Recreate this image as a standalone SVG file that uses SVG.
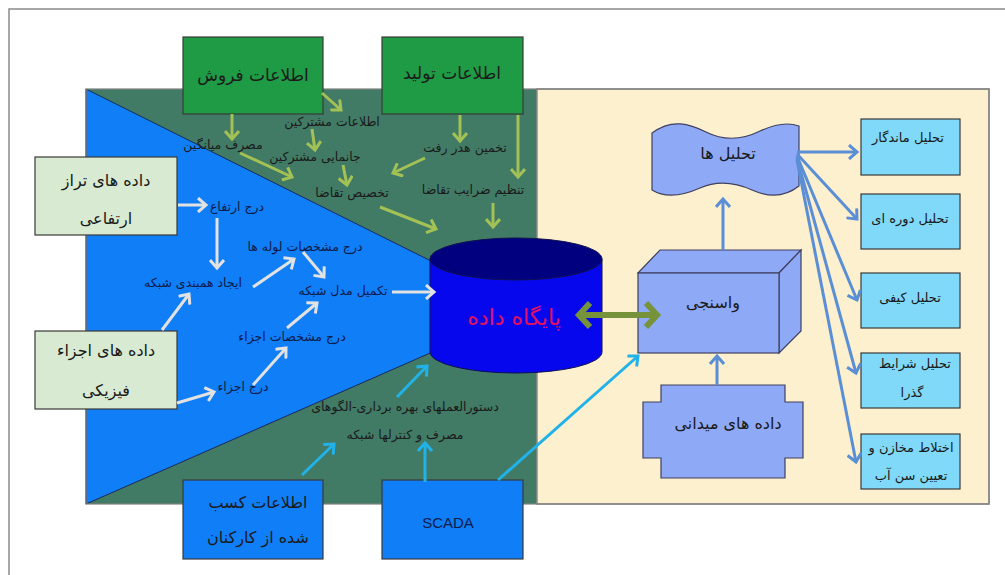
<svg xmlns="http://www.w3.org/2000/svg" width="1005" height="575" viewBox="0 0 1005 575">
<defs>
<style>
text{font-family:"DejaVu Sans","Noto Sans",sans-serif;text-anchor:middle;}
.box{stroke:#3a3a3a;stroke-width:1.2;}
.lbl{font-size:12.5px;fill:#1a1a1a;}
.rl{font-size:13px;fill:#1a1a1a;}
.lblb{font-size:12.5px;fill:#0d1b4a;}
.big{font-size:17px;fill:#1a1a1a;}
.bx{font-size:16px;fill:#1a1a1a;}
.yg{stroke:#a3c155;stroke-width:3;fill:none;marker-end:url(#mYG);}
.wh{stroke:#e2e2e2;stroke-width:3;fill:none;marker-end:url(#mWH);}
.cy{stroke:#20b2e8;stroke-width:3;fill:none;marker-end:url(#mCY);}
.sb{stroke:#5a8fd6;stroke-width:3;fill:none;marker-end:url(#mSB);}
</style>
<marker id="mYG" markerUnits="userSpaceOnUse" markerWidth="16" markerHeight="16" refX="10" refY="8" orient="auto"><path d="M2,1 L10,8 L2,15" fill="none" stroke="#a3c155" stroke-width="3"/></marker>
<marker id="mWH" markerUnits="userSpaceOnUse" markerWidth="16" markerHeight="16" refX="10" refY="8" orient="auto"><path d="M2,1 L10,8 L2,15" fill="none" stroke="#e2e2e2" stroke-width="3"/></marker>
<marker id="mCY" markerUnits="userSpaceOnUse" markerWidth="16" markerHeight="16" refX="10" refY="8" orient="auto"><path d="M2,1 L10,8 L2,15" fill="none" stroke="#20b2e8" stroke-width="3"/></marker>
<marker id="mSB" markerUnits="userSpaceOnUse" markerWidth="16" markerHeight="16" refX="10" refY="8" orient="auto"><path d="M2,1 L10,8 L2,15" fill="none" stroke="#5a8fd6" stroke-width="3"/></marker>
<marker id="mOL" markerUnits="userSpaceOnUse" markerWidth="24" markerHeight="30" refX="14" refY="15" orient="auto-start-reverse"><path d="M3,3 L14,15 L3,27" fill="none" stroke="#76933c" stroke-width="6"/></marker>
</defs>
<rect width="1005" height="575" fill="#ffffff"/>
<rect x="9" y="9" width="1010" height="600" fill="none" stroke="#8a8a8a" stroke-width="1.5"/>

<g id="panel">
<rect x="86" y="89" width="451" height="415" fill="#417b65"/>
<rect x="537" y="89" width="452" height="415" fill="#fdf0cf" stroke="#8a8a8a" stroke-width="1.5"/>
<polygon points="86,89 437,264 437,350 86,504" fill="#0f7ef7" stroke="#1a2a5a" stroke-width="1"/>
<rect x="86" y="89" width="903" height="415" fill="none" stroke="#808080" stroke-width="1.2"/>
</g>

<g id="n-sales">
<rect class="box" x="183" y="37" width="140" height="77" fill="#1f9b45"/>
<text class="big" x="253" y="81" direction="rtl">اطلاعات فروش</text>
</g>
<g id="n-prod">
<rect class="box" x="382" y="37" width="141" height="77" fill="#1f9b45"/>
<text class="big" x="452" y="79" direction="rtl">اطلاعات تولید</text>
</g>

<g id="labels-green">
<text class="lbl" x="332" y="126" direction="rtl">اطلاعات مشترکین</text>
<text class="lbl" x="223" y="149" direction="rtl">مصرف میانگین</text>
<text class="lbl" x="315" y="161" direction="rtl">جانمایی مشترکین</text>
<text class="lbl" x="352" y="197" direction="rtl">تخصیص تقاضا</text>
<text class="lbl" x="465" y="152" direction="rtl">تخمین هدر رفت</text>
<text class="lbl" x="473" y="194" direction="rtl">تنظیم ضرایب تقاضا</text>
<text class="lbl" x="405" y="411" direction="rtl">دستورالعملهای بهره برداری-الگوهای</text>
<text class="lbl" x="405" y="439" direction="rtl">مصرف و کنترلها شبکه</text>
</g>

<g id="labels-blue">
<text class="lblb" x="237" y="211" direction="rtl">درج ارتفاع</text>
<text class="lblb" x="193" y="287" direction="rtl">ایجاد همبندی شبکه</text>
<text class="lblb" x="305" y="251" direction="rtl">درج مشخصات لوله ها</text>
<text class="lblb" x="343" y="295" direction="rtl">تکمیل مدل شبکه</text>
<text class="lblb" x="292" y="341" direction="rtl">درج مشخصات اجزاء</text>
<text class="lblb" x="243" y="391" direction="rtl">درج اجزاء</text>
</g>

<g id="n-elev">
<rect class="box" x="35" y="157" width="142" height="78" fill="#d8ead2"/>
<text class="bx" x="106" y="186" direction="rtl">داده های تراز</text>
<text class="bx" x="106" y="224" direction="rtl">ارتفاعی</text>
</g>
<g id="n-phys">
<rect class="box" x="35" y="331" width="142" height="78" fill="#d8ead2"/>
<text class="bx" x="106" y="356" direction="rtl">داده های اجزاء</text>
<text class="bx" x="106" y="396" direction="rtl">فیزیکی</text>
</g>
<g id="n-staff">
<rect class="box" x="183" y="480" width="140" height="79" fill="#0f7ef7"/>
<text class="bx" x="258" y="508" direction="rtl">اطلاعات کسب</text>
<text class="bx" x="258" y="543" direction="rtl">شده از کارکنان</text>
</g>
<g id="n-scada">
<rect class="box" x="382" y="480" width="141" height="79" fill="#0f7ef7"/>
<text x="448" y="528" style="font-family:'Liberation Sans',Arial,sans-serif;font-size:15px;fill:#0d1b4a">SCADA</text>
</g>

<g id="n-db">
<path d="M430,259 L430,352 A86,21 0 0 0 602,352 L602,259 Z" fill="#0707ee" stroke="#101050" stroke-width="1"/>
<ellipse cx="516" cy="259" rx="86" ry="21" fill="#01017f" stroke="#101050" stroke-width="1"/>
<text x="514" y="325" direction="rtl" style="font-size:22px;fill:#e0115f">پایگاه داده</text>
</g>

<g id="n-cal">
<polygon points="638,273 660,250 801,250 779,273" fill="#8ea9f5" stroke="#404060" stroke-width="1.2"/>
<polygon points="779,273 801,250 801,331 779,353" fill="#8ea9f5" stroke="#404060" stroke-width="1.2"/>
<rect x="638" y="273" width="141" height="80" fill="#8ea9f5" stroke="#404060" stroke-width="1.2"/>
<text class="bx" x="713" y="308" direction="rtl">واسنجی</text>
</g>

<g id="n-analyses">
<path d="M652,133 C672,118 690,124 706,132 C724,141 742,140 760,131 C775,124 788,122 799,126 L799,186 C785,197 770,198 752,190 C734,182 716,181 700,188 C682,196 665,198 652,190 Z" fill="#8ea9f5" stroke="#404060" stroke-width="1.2"/>
<text class="bx" x="728" y="159" direction="rtl">تحلیل ها</text>
</g>

<g id="n-field">
<polygon points="661,385 785,385 785,402 803,402 803,458 785,458 785,478 661,478 661,458 643,458 643,402 661,402" fill="#8ea9f5" stroke="#404060" stroke-width="1.2"/>
<text class="bx" x="728" y="429" direction="rtl">داده های میدانی</text>
</g>

<g id="n-steady">
<rect class="box" x="861" y="119" width="99" height="56" fill="#80d9f8"/>
<text class="rl" x="908" y="142" direction="rtl">تحلیل ماندگار</text>
</g>
<g id="n-period">
<rect class="box" x="861" y="194" width="99" height="55" fill="#80d9f8"/>
<text class="rl" x="910" y="223" direction="rtl">تحلیل دوره ای</text>
</g>
<g id="n-quality">
<rect class="box" x="861" y="273" width="99" height="55" fill="#80d9f8"/>
<text class="rl" x="910" y="302" direction="rtl">تحلیل کیفی</text>
</g>
<g id="n-transient">
<rect class="box" x="861" y="353" width="99" height="55" fill="#80d9f8"/>
<text class="rl" x="915" y="368" direction="rtl">تحلیل شرایط</text>
<text class="rl" x="912" y="397" direction="rtl">گذرا</text>
</g>
<g id="n-mix">
<rect class="box" x="861" y="434" width="99" height="55" fill="#80d9f8"/>
<text class="rl" x="911" y="452" direction="rtl">اختلاط مخازن و</text>
<text class="rl" x="911" y="480" direction="rtl">تعیین سن آب</text>
</g>

<g id="connectors">
<line class="yg" x1="232" y1="114" x2="232" y2="139"/>
<line class="yg" x1="322" y1="93" x2="341" y2="110"/>
<line class="yg" x1="312" y1="129" x2="315" y2="150"/>
<line class="yg" x1="240" y1="153" x2="292" y2="177"/>
<line class="yg" x1="343" y1="165" x2="347" y2="185"/>
<line class="yg" x1="380" y1="207" x2="436" y2="229"/>
<line class="yg" x1="460" y1="115" x2="460" y2="141"/>
<line class="yg" x1="425" y1="158" x2="393" y2="173"/>
<line class="yg" x1="518" y1="115" x2="518" y2="177"/>
<line class="yg" x1="493" y1="203" x2="493" y2="227"/>
<line class="wh" x1="178" y1="205" x2="206" y2="205"/>
<line class="wh" x1="217" y1="218" x2="217" y2="268"/>
<line class="wh" x1="253" y1="287" x2="294" y2="259"/>
<line class="wh" x1="303" y1="252" x2="324" y2="277"/>
<line class="wh" x1="392" y1="292" x2="434" y2="292"/>
<line class="wh" x1="162" y1="330" x2="189" y2="294"/>
<line class="wh" x1="287" y1="328" x2="317" y2="303"/>
<line class="wh" x1="177" y1="403" x2="214" y2="392"/>
<line class="wh" x1="253" y1="385" x2="286" y2="348"/>
<line class="cy" x1="302" y1="475" x2="334" y2="444"/>
<line class="cy" x1="425" y1="482" x2="425" y2="443"/>
<line class="cy" x1="397" y1="397" x2="427" y2="366"/>
<line class="cy" x1="498" y1="480" x2="638" y2="356"/>
<line class="sb" x1="723" y1="250" x2="723" y2="199"/>
<line class="sb" x1="717" y1="385" x2="717" y2="356"/>
<line class="sb" x1="797" y1="152" x2="857" y2="152"/>
<line class="sb" x1="797" y1="154" x2="857" y2="219"/>
<line class="sb" x1="797" y1="156" x2="857" y2="300"/>
<line class="sb" x1="797" y1="158" x2="856" y2="373"/>
<line class="sb" x1="797" y1="160" x2="856" y2="462"/>
<line x1="579" y1="315" x2="657" y2="315" stroke="#76933c" stroke-width="6" marker-start="url(#mOL)" marker-end="url(#mOL)"/>
</g>
</svg>
